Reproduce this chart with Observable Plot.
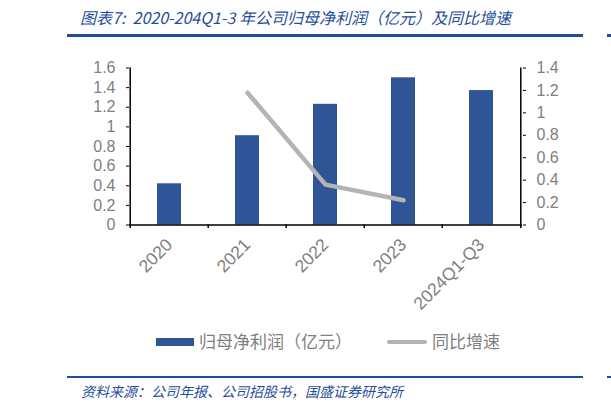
<!DOCTYPE html>
<html><head><meta charset="utf-8">
<script src="https://cdn.jsdelivr.net/npm/d3@7"></script>
<script src="https://cdn.jsdelivr.net/npm/@observablehq/plot@0.6"></script>
<style>
body{margin:0;background:#fff;}
#wrap{position:relative;width:611px;height:410px;overflow:hidden;font-family:"Noto Sans CJK SC","Noto Sans",sans-serif;background:#fff;}
#chart{position:absolute;left:0;top:0;}
.abs{position:absolute;white-space:nowrap;}
#title{left:80px;top:7px;font-size:16px;font-style:italic;color:#1F4E9A;line-height:20px;z-index:2;}
.hl{position:absolute;background:#1F4E9A;z-index:2;}
.leg{font-size:17px;color:#7F7F7F;line-height:20px;}
#cap{left:81px;top:382px;font-size:14px;font-style:italic;color:#1F4E9A;line-height:18px;}
</style></head><body>
<div id="wrap">
  <div id="chart"></div>
  <div id="title" class="abs">图表7:&nbsp; 2020-204Q1-3 年公司归母净利润（亿元）及同比增速</div>
  <div class="hl" style="left:67px;top:34px;width:516px;height:3px"></div>
  <div class="hl" style="left:607px;top:34px;width:4px;height:3px"></div>
  <div class="abs" style="left:156px;top:338px;width:38px;height:8px;background:#2F5597"></div>
  <div class="abs leg" style="left:199px;top:331px">归母净利润（亿元）</div>
  <div class="abs" style="left:387px;top:340px;width:40px;height:4px;background:#B4B4B4;border-radius:2px"></div>
  <div class="abs leg" style="left:432px;top:331px">同比增速</div>
  <div class="hl" style="left:67px;top:376px;width:516px;height:2px"></div>
  <div class="hl" style="left:607px;top:376px;width:4px;height:2px"></div>
  <div id="cap" class="abs">资料来源：公司年报、公司招股书，国盛证券研究所</div>
</div>
<script>
const categories = ["2020", "2021", "2022", "2023", "2024Q1-Q3"];
const profit = [0.42, 0.91, 1.23, 1.50, 1.37];
const growthCategories = ["2021", "2022", "2023"];
const growth = [1.18, 0.36, 0.22];
const leftTicks = [0, 0.2, 0.4, 0.6, 0.8, 1.0, 1.2, 1.4, 1.6];
const rightTicks = [0, 0.2, 0.4, 0.6, 0.8, 1.0, 1.2, 1.4];

const leftMax = 1.6, rightMax = 1.4;
const k = leftMax / rightMax;
const fmt = v => String(Math.round(v * 10) / 10);

const W = 611, H = 320, ML = 129, MR = 89;
const step = (W - ML - MR) / categories.length;

const barData = categories.map((c, i) => ({c, v: profit[i]}));
const lineData = growthCategories.map((c, i) => ({c, g: growth[i]}));

const tickFont = '"Liberation Sans","DejaVu Sans",sans-serif';

const plot = Plot.plot({
  width: W, height: H,
  marginLeft: ML, marginRight: MR, marginTop: 67.5, marginBottom: 95.5,
  style: {fontFamily: tickFont, fontSize: "16px", background: "transparent"},
  x: {type: "band", domain: categories, paddingInner: 0.69, paddingOuter: 0.345},
  y: {domain: [0, leftMax]},
  marks: [
    Plot.barY(barData, {x: "c", y: "v", fill: "#2F5597"}),
    Plot.line(lineData, {x: "c", y: d => d.g * k, stroke: "#B4B4B4", strokeWidth: 4.5, strokeLinecap: "round"}),
    Plot.ruleY([0], {stroke: "black", strokeWidth: 1.5}),
    Plot.ruleX([categories[0]], {dx: -step / 2, stroke: "black", strokeWidth: 1.5}),
    Plot.ruleX([categories[categories.length - 1]], {dx: step / 2, stroke: "black", strokeWidth: 1.5}),
    Plot.ruleX(categories, {dx: -step / 2, y1: 0, y2: -0.036, stroke: "black", strokeWidth: 1.5}),
    Plot.ruleX([categories[categories.length - 1]], {dx: step / 2, y1: 0, y2: -0.036, stroke: "black", strokeWidth: 1.5}),
    Plot.axisY({anchor: "left", ticks: leftTicks, tickFormat: fmt, tickSize: 3, tickPadding: 11, stroke: "black", fill: "#808080", fontSize: 16, label: null}),
    Plot.axisY({anchor: "right", ticks: rightTicks.map(v => v * k), tickFormat: d => fmt(d / k), tickSize: 3, tickPadding: 11, stroke: "black", fill: "#808080", fontSize: 16, label: null}),
    Plot.axisX({tickSize: 0, tickPadding: 17, tickRotate: -45, fill: "#808080", fontSize: 17.5, label: null})
  ]
});
document.getElementById("chart").appendChild(plot);
</script>
</body></html>
